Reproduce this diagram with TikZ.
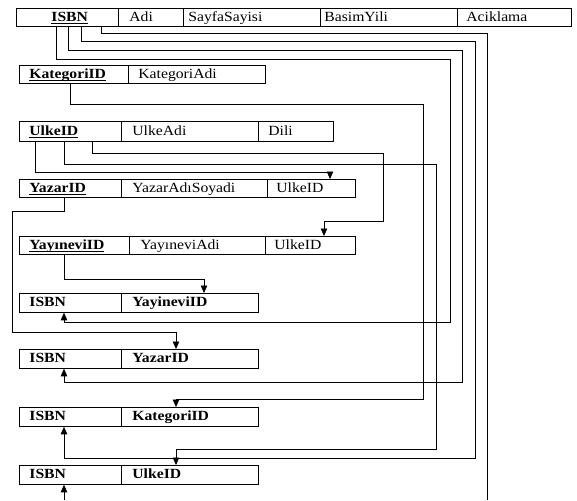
\documentclass[tikz,border=0pt]{standalone}
\usepackage{fontspec}
\setmainfont[FakeStretch=1.12]{Liberation Serif}
\usetikzlibrary{arrows.meta, calc}
\newcommand{\pk}[1]{\textbf{\underline{\smash{#1}}}}

\begin{document}
\begin{tikzpicture}[x=1pt, y=-1pt,
  cell/.style={draw, line width=0.8pt, anchor=north west, inner ysep=0pt, align=left,
               text height=10.5pt, text depth=2.5pt, font=\fontsize{14}{16}\selectfont},
  link/.style={line width=0.7pt},
  fk/.style={link, -{Triangle[length=7.5pt, width=6.5pt]}}]
  \useasboundingbox (0,0) rectangle (577,500);
  \foreach \n/\x/\y/\w/\h/\p/\t in {
      t1/16/8/102/18/35/\pk{ISBN}, t2/118/8/65/18/11/Adi,
      t3/183/8/137/18/5/SayfaSayisi, t4/320/8/137/18/4/BasimYili, t5/457/8/114/18/9/Aciklama,
      k1/19/65/109/18/10/\pk{KategoriID}, k2/128/65/137/18/10/KategoriAdi,
      u1/19/121/102/20/10/\pk{UlkeID}, u2/121/121/137/20/11/UlkeAdi, u3/258/121/75/20/10/Dili,
      y1/19/179/102/18/10/\pk{YazarID}, y2/121/179/146/18/11/YazarAdıSoyadi, y3/267/179/88/18/9/UlkeID,
      p1/19/236/110/18/10/\pk{YayıneviID}, p2/129/236/136/18/11/YayıneviAdi, p3/265/236/90/18/9/UlkeID}{
    \pgfmathsetmacro\tw{\w-2*\p}
    \node[cell, minimum width=\w pt, minimum height=\h pt, inner xsep=\p pt, text width=\tw pt] (\n) at (\x,\y) {\t};
  }
  \foreach \n/\y/\t in {b1/293/YayineviID, b2/349/YazarID, b3/407/KategoriID, b4/465/UlkeID}{
    \node[cell, minimum width=102pt, minimum height=19pt, inner xsep=10pt, text width=82pt] (\n-a) at (19,\y) {\textbf{ISBN}};
    \node[cell, minimum width=137pt, minimum height=19pt, inner xsep=11pt, text width=115pt] (\n-b) at (121,\y) {\textbf{\t}};
  }
  \coordinate (endA) at (487,500);
  \coordinate (endB) at (64,500);

  \draw[fk] ($(t1.south west)+(40,0)$) |- (450,59) -- (450,322) -| ($(b1-a.south west)+(45,0)$);
  \draw[fk] ($(t1.south west)+(52,0)$) |- (462,50) -- (462,382) -| ($(b2-a.south west)+(45,0)$);
  \draw[fk] ($(t1.south west)+(65,0)$) |- (475,41) -- (475,458) -| ($(b3-a.south west)+(45,0)$);
  \draw[link] ($(t1.south west)+(85,0)$) |- (487,33) -- (endA);
  \draw[fk] (endB) -- ($(b4-a.south west)+(45,0)$);

  \draw[fk] ($(k1.south west)+(51,0)$) |- (423,104) -- (423,399) -| ($(b3-b.north west)+(55,0)$);

  \draw[fk] ($(u1.south west)+(16,0)$) |- (330,172) -- ($(y3.north west)+(63,0)$);
  \draw[fk] ($(u1.south west)+(45,0)$) |- (436,164) -- (436,449) -| ($(b4-b.north west)+(55,0)$);
  \draw[fk] ($(u1.south west)+(73,0)$) |- (383,153) -- (383,221) -| ($(p3.north west)+(59,0)$);

  \draw[fk] ($(y1.south west)+(45,0)$) |- (12,211) -- (12,332) -| ($(b2-b.north west)+(55,0)$);
  \draw[fk] ($(p1.south west)+(45,0)$) |- (204,279) -- ($(b1-b.north west)+(83,0)$);
\end{tikzpicture}
\end{document}
